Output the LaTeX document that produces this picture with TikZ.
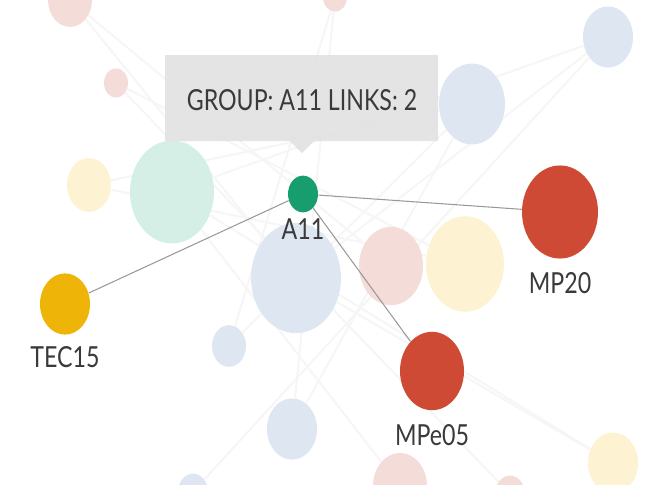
\documentclass[tikz,border=0pt]{standalone}
\usepackage{fontspec}
\setmainfont{Lato}[FakeStretch=0.8]
\usepackage{tikz}
\usetikzlibrary{positioning,shapes.geometric,backgrounds}

\definecolor{nodegreen}{RGB}{24,158,110}
\definecolor{nodered}{RGB}{206,74,52}
\definecolor{nodegold}{RGB}{238,180,8}
\definecolor{fadepink}{RGB}{244,220,217}
\definecolor{fadeyellow}{RGB}{253,242,210}
\definecolor{fademint}{RGB}{214,239,230}
\definecolor{fadeblue}{RGB}{221,230,241}
\definecolor{tipgrey}{RGB}{226,226,226}
\definecolor{labelgrey}{RGB}{58,58,58}

\begin{document}
\begin{tikzpicture}[
  x=0.02cm, y=-0.02cm,
  bub/.style={ellipse, inner sep=0pt, minimum width=#1*0.04cm, minimum height=#1*0.049cm},
  bg/.style={fill=#1},
  hot/.style={fill=#1},
  lbl/.style={font=\fontsize{16.5}{18}\selectfont, text=labelgrey, inner sep=1pt},
  link/.style={draw=gray!80, line width=0.6pt},
  faint/.style={draw=gray!7, line width=1.2pt}
]
\useasboundingbox (0,0) rectangle (656,484);
\clip (0,0) rectangle (656,484);

% background bubbles
\node[bub=22, bg=fadepink] (pa) at (70,0) {};
\node[bub=12, bg=fadepink] (pb) at (116,83) {};
\node[bub=12, bg=fadepink] (pc) at (335,-3) {};
\node[bub=22, bg=fadeyellow] (ya) at (89,185) {};
\node[bub=42, bg=fademint] (ma) at (172,192) {};
\node[bub=33, bg=fadeblue] (ba) at (472,104) {};
\node[bub=25, bg=fadeblue] (bb) at (608,37) {};
\node[bub=32, bg=fadepink] (pd) at (391,266) {};
\node[bub=39, bg=fadeyellow] (yb) at (465,264) {};
\node[bub=45, bg=fadeblue] (bc) at (296,278) {};
\node[bub=17, bg=fadeblue] (bd) at (229,346) {};
\node[bub=25, bg=fadeblue] (be) at (292,429) {};
\node[bub=15, bg=fadeblue] (bf) at (193,492) {};
\node[bub=27, bg=fadepink] (pe) at (400,486) {};
\node[bub=15, bg=fadepink] (pf) at (510,494) {};
\node[bub=25, bg=fadeyellow] (yc) at (613,463) {};

% faint web behind
\begin{scope}[on background layer]
\foreach \a/\b in {pa/bc, pb/yb, pc/be, ya/ba, ma/yc, ba/bd, bb/bf, pd/pa, yb/ya, bc/bb, bd/pc, be/ba, pe/ma, pf/pb, yc/bc, ma/bb}
  \draw[faint] (\a) -- (\b);
\end{scope}

% highlighted group
\node[bub=15, hot=nodegreen] (a11) at (303,194) {};
\node[bub=38, hot=nodered] (mp20) at (560,212) {};
\node[bub=25, hot=nodegold] (tec15) at (65,304) {};
\node[bub=32, hot=nodered] (mpe05) at (432,371) {};

\draw[link] (a11) -- (mp20);
\draw[link] (a11) -- (tec15);
\draw[link] (a11) -- (mpe05);

\node[lbl, below=2pt of a11] (a11l) {A11};
\node[lbl, below=6.5pt of mp20] (mp20l) {MP20};
\node[lbl, below=5.5pt of tec15] (tec15l) {TEC15};
\node[lbl, below=7pt of mpe05] (mpe05l) {MPe05};

% tooltip
\fill[tipgrey, opacity=0.92] (165,55) rectangle (438,141) (290,141) -- (302,153) -- (314,141) -- cycle;
\node[lbl] (tip) at (302,100) {GROUP: A11 LINKS: 2};
\end{tikzpicture}
\end{document}
